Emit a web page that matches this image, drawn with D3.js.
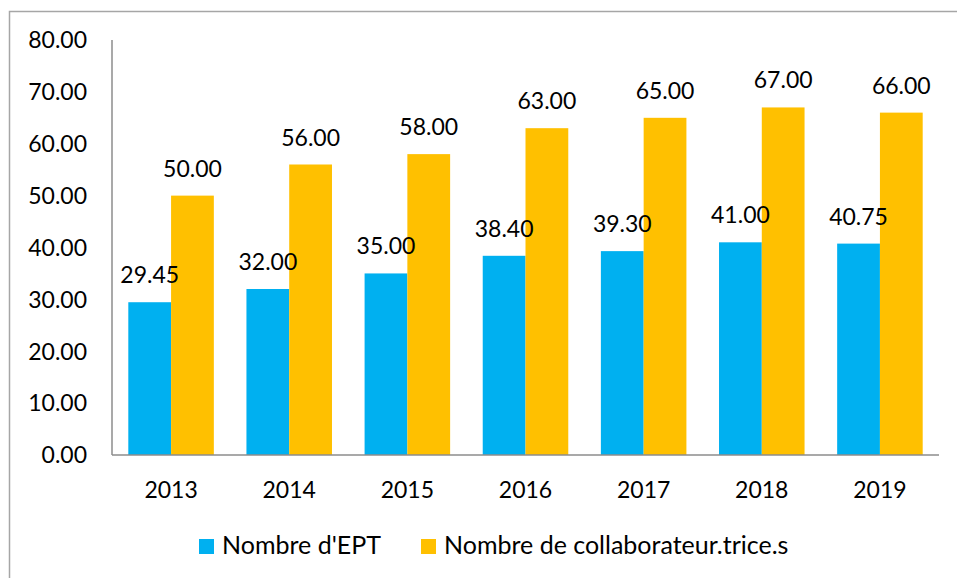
<!DOCTYPE html>
<html>
<head>
<meta charset="utf-8">
<script src="https://cdn.jsdelivr.net/npm/d3@7"></script>
<style>
  body { margin: 0; background: #fff; }
  text { font-family: Lato, "Open Sans", sans-serif; fill: #000; }
</style>
</head>
<body>
<script>
var width = 957;
var height = 578;

var years = ["2013", "2014", "2015", "2016", "2017", "2018", "2019"];
var ept = [29.45, 32.00, 35.00, 38.40, 39.30, 41.00, 40.75];
var collab = [50.00, 56.00, 58.00, 63.00, 65.00, 67.00, 66.00];
var seriesNames = ["Nombre d'EPT", "Nombre de collaborateur.trice.s"];
var colors = ["#00B0F0", "#FFC000"];
var yTicks = [0, 10, 20, 30, 40, 50, 60, 70, 80];

var rows = years.map(function(y, i) { return {year: y, values: [ept[i], collab[i]]}; });

var svg = d3.select("body")
            .append("svg")
            .attr("width", width)
            .attr("height", height);

// outer frame (only top and left visible)
svg.append("path")
   .attr("d", "M9.5," + height + "V11.5H" + width)
   .attr("fill", "none")
   .attr("stroke", "#a6a6a6")
   .attr("stroke-width", 1.5);

var plotLeft = 112, plotRight = 939, plotTop = 40, plotBottom = 455;

var x = d3.scaleBand()
          .domain(years)
          .range([plotLeft, plotRight])
          .paddingInner(0.276)
          .paddingOuter(0.138);

var x1 = d3.scaleBand()
           .domain([0, 1])
           .range([0, x.bandwidth()]);

var y = d3.scaleLinear()
          .domain([0, 80])
          .range([plotBottom, plotTop]);

// y tick labels
svg.append("g")
   .selectAll("text")
   .data(yTicks)
   .enter()
   .append("text")
   .attr("x", 87)
   .attr("y", function(d) { return y(d); })
   .attr("dy", "0.36em")
   .attr("text-anchor", "end")
   .attr("font-size", 23)
   .text(function(d) { return d.toFixed(2); });

// bars
var groups = svg.append("g")
                .selectAll("g")
                .data(rows)
                .enter()
                .append("g")
                .attr("transform", function(d) { return "translate(" + x(d.year) + ",0)"; });

groups.selectAll("rect")
      .data(function(d) { return d.values; })
      .enter()
      .append("rect")
      .attr("x", function(d, i) { return x1(i); })
      .attr("y", function(d) { return y(d); })
      .attr("width", x1.bandwidth())
      .attr("height", function(d) { return plotBottom - y(d); })
      .attr("fill", function(d, i) { return colors[i]; });

// axes lines
svg.append("line")
   .attr("x1", plotLeft).attr("x2", plotLeft)
   .attr("y1", plotTop).attr("y2", plotBottom)
   .attr("stroke", "#8c8c8c").attr("stroke-width", 1.5);

svg.append("line")
   .attr("x1", plotLeft).attr("x2", plotRight)
   .attr("y1", plotBottom).attr("y2", plotBottom)
   .attr("stroke", "#8c8c8c").attr("stroke-width", 1.5);

// data labels
groups.selectAll("text")
      .data(function(d) { return d.values; })
      .enter()
      .append("text")
      .attr("x", function(d, i) { return x1(i) + x1.bandwidth() / 2; })
      .attr("y", function(d) { return y(d) - 19; })
      .attr("text-anchor", "middle")
      .attr("font-size", 23)
      .text(function(d) { return d.toFixed(2); });

// x labels
svg.append("g")
   .selectAll("text")
   .data(years)
   .enter()
   .append("text")
   .attr("x", function(d) { return x(d) + x.bandwidth() / 2; })
   .attr("y", 498)
   .attr("text-anchor", "middle")
   .attr("font-size", 23)
   .text(function(d) { return d; });

// legend
var legendX = [199, 421];
var legend = svg.append("g")
                .selectAll("g")
                .data(seriesNames)
                .enter()
                .append("g")
                .attr("transform", function(d, i) { return "translate(" + legendX[i] + ",539)"; });

legend.append("rect")
      .attr("width", 15)
      .attr("height", 15)
      .attr("fill", function(d, i) { return colors[i]; });

legend.append("text")
      .attr("x", 23)
      .attr("y", 14.5)
      .attr("font-size", 25)
      .text(function(d) { return d; });
</script>
</body>
</html>
